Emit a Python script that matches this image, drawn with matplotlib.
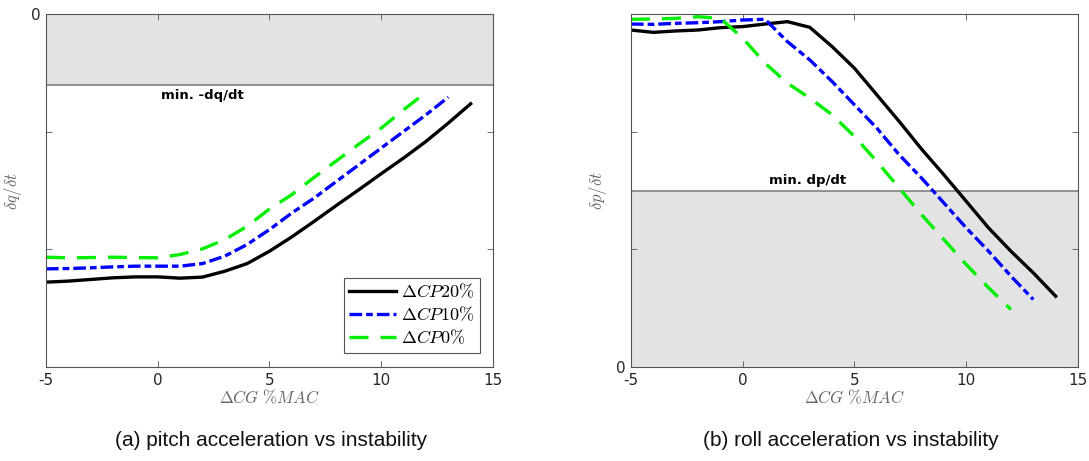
import numpy as np
import matplotlib.pyplot as plt

plt.rcParams['font.family'] = ['DejaVu Sans']
plt.rcParams['mathtext.fontset'] = 'cm'

# CG shift, % of mean aerodynamic chord
cg = np.arange(-5, 15)

# pitch acceleration (dq/dt) for each CP shift
pitch_cp20 = [-22.79, -22.70, -22.56, -22.42, -22.34, -22.34, -22.45, -22.36, -21.86, -21.21,
              -20.16, -18.94, -17.62, -16.26, -14.93, -13.57, -12.24, -10.83, -9.27, -7.63]
pitch_cp10 = [-21.66, -21.63, -21.57, -21.49, -21.43, -21.43, -21.43, -21.21, -20.58, -19.59,
              -18.32, -16.91, -15.64, -14.22, -12.81, -11.39, -9.98, -8.57, -7.07]
pitch_cp0 = [-20.67, -20.72, -20.70, -20.67, -20.70, -20.72, -20.44, -19.96, -19.17, -18.04,
             -16.57, -15.35, -13.88, -12.47, -11.06, -9.70, -8.14, -6.67]
pitch_min = -6.0

# roll acceleration (dp/dt) for each CP shift
roll_cp20 = [28.64, 28.44, 28.56, 28.64, 28.84, 28.93, 29.15, 29.35, 28.87, 27.23,
             25.39, 23.13, 20.87, 18.52, 16.34, 14.08, 11.82, 9.84, 8.00, 6.02]
roll_cp10 = [29.15, 29.12, 29.21, 29.26, 29.35, 29.49, 29.55, 27.65, 26.10, 24.26,
             22.28, 20.30, 18.04, 16.06, 13.94, 11.82, 9.84, 7.72, 5.74]
roll_cp0 = [29.55, 29.58, 29.63, 29.77, 29.63, 27.94, 25.82, 24.12, 22.85, 21.44,
            19.59, 17.47, 15.21, 12.95, 10.83, 8.71, 6.73, 4.89]
roll_min = 15.0

labels = [r'$\Delta CP 20\%$', r'$\Delta CP 10\%$', r'$\Delta CP 0\%$']

shade = '#e3e3e3'
edge = '#808080'


def draw_curves(ax, s20, s10, s0):
    ax.plot(cg[:len(s20)], s20, color='black', lw=2.4, label=labels[0])
    ax.plot(cg[:len(s10)], s10, color='#0000ff', lw=2.4, dashes=(3.8, 1.2, 2.0, 1.2), label=labels[1])
    ax.plot(cg[:len(s0)], s0, color='#00ee00', lw=2.4, dashes=(5.7, 3.6), label=labels[2])


def style(ax, ylim, yticks, ylabel):
    ax.set_xlim(-5, 15)
    ax.set_ylim(*ylim)
    ax.set_xticks([-5, 0, 5, 10, 15])
    ax.set_xticklabels(['-5', '0', '5', '10', '15'])
    ax.set_yticks(yticks)
    ax.set_yticklabels(['0' if t == 0 else '' for t in yticks])
    ax.tick_params(direction='in', top=True, right=True, length=4, width=0.6,
                   colors='#555555', labelcolor='#262626', labelsize=11, pad=4)
    for sp in ax.spines.values():
        sp.set_color('#555555')
        sp.set_linewidth(0.8)
    ax.set_xlabel(r'$\Delta CG\ \%MAC$', fontsize=12, color='#666666', labelpad=1)
    ax.set_ylabel(ylabel, fontsize=12, color='#666666')
    ax.yaxis.set_label_coords(-0.049, 0.5)


fig = plt.figure(figsize=(10.89, 4.61), dpi=100)
ax1 = fig.add_axes([0.0422, 0.2039, 0.4105, 0.7657])
ax2 = fig.add_axes([0.5794, 0.2039, 0.4105, 0.7657])

# pitch: region above the minimum is shaded
ax1.axhspan(pitch_min, 0, color=shade, zorder=0, lw=0)
ax1.axhline(pitch_min, color=edge, lw=1.2, zorder=1)
ax1.text(2.0, pitch_min - 0.4, 'min. -dq/dt', ha='center', va='top', fontsize=9.5, fontweight='bold')
draw_curves(ax1, pitch_cp20, pitch_cp10, pitch_cp0)
style(ax1, (-30, 0), [-30, -20, -10, 0], r'$\delta q/\delta t$')
leg = ax1.legend(loc='lower right', bbox_to_anchor=(0.972, 0.04), fontsize=13, fancybox=False,
                 framealpha=1, edgecolor='#555555', handlelength=2.6, handletextpad=0.3,
                 borderpad=0.3, labelspacing=0.25, borderaxespad=0)
leg.get_frame().set_linewidth(0.8)

# roll: region below the minimum is shaded
ax2.axhspan(0, roll_min, color=shade, zorder=0, lw=0)
ax2.axhline(roll_min, color=edge, lw=1.2, zorder=1)
ax2.text(2.9, roll_min + 0.3, 'min. dp/dt', ha='center', va='bottom', fontsize=9.5, fontweight='bold')
draw_curves(ax2, roll_cp20, roll_cp10, roll_cp0)
style(ax2, (0, 30), [0, 10, 20, 30], r'$\delta p/\delta t$')

fig.text(0.249, 0.033, '(a) pitch acceleration vs instability', ha='center', fontsize=15,
         family='Liberation Sans', color='#111111')
fig.text(0.781, 0.033, '(b) roll acceleration vs instability', ha='center', fontsize=15,
         family='Liberation Sans', color='#111111')

fig.savefig('out.png', dpi=100)
